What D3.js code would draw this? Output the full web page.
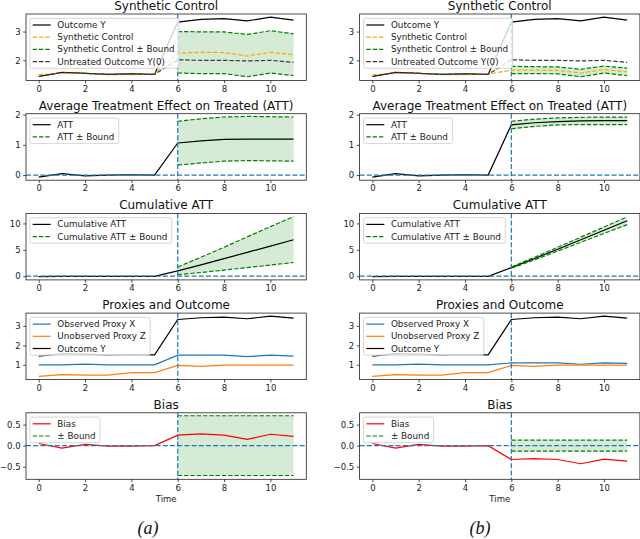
<!DOCTYPE html>
<html>
<head>
<meta charset="utf-8">
<style>
  body { margin:0; background:#fff; }
  svg text { font-family:"DejaVu Sans", sans-serif; }
</style>
<script src="https://d3js.org/d3.v7.min.js"></script>
</head>
<body>
<script>
// ---- data ----
var time = [0,1,2,3,4,5,6,7,8,9,10,11];
var postTime = [6,7,8,9,10,11];
var xTicks = [0,2,4,6,8,10];

var outcomeY   = [1.44,1.58,1.55,1.51,1.53,1.51,3.33,3.42,3.45,3.37,3.50,3.40];
var untreatedY0= [1.44,1.58,1.55,1.51,1.53,1.51,2.02,2.00,2.00,1.98,2.00,1.93];

var synthA     = [1.50,1.55,1.55,1.50,1.50,1.52,2.25,2.28,2.27,2.15,2.28,2.20];
var synthUpA   = [3.00,2.99,2.99,2.90,3.03,2.92];
var synthLoA   = [1.56,1.54,1.54,1.43,1.56,1.47];
var synthB     = [1.50,1.55,1.55,1.50,1.50,1.52,1.66,1.66,1.65,1.56,1.68,1.60];
var synthUpB   = [1.79,1.78,1.77,1.69,1.80,1.73];
var synthLoB   = [1.54,1.54,1.53,1.43,1.56,1.47];

var attA       = [-0.07,0.05,-0.03,0.00,0.01,0.00,1.06,1.13,1.18,1.19,1.19,1.19];
var attUpA     = [1.78,1.86,1.92,1.94,1.93,1.92];
var attLoA     = [0.33,0.40,0.46,0.48,0.47,0.46];
var attB       = [-0.07,0.05,-0.03,0.00,0.01,0.00,1.66,1.73,1.77,1.79,1.80,1.80];
var attUpB     = [1.78,1.85,1.89,1.91,1.92,1.92];
var attLoB     = [1.53,1.61,1.66,1.67,1.67,1.67];

var cumA       = [-0.07,-0.02,-0.05,-0.05,-0.04,-0.04,1.02,2.15,3.33,4.52,5.71,6.90];
var cumUpA     = [1.74,3.60,5.50,7.45,9.40,11.30];
var cumLoA     = [0.30,0.70,1.16,1.64,2.11,2.60];
var cumB       = [-0.07,-0.02,-0.05,-0.05,-0.04,-0.04,1.62,3.35,5.12,6.91,8.71,10.50];
var cumUpB     = [1.74,3.60,5.49,7.40,9.32,11.24];
var cumLoB     = [1.50,3.10,4.76,6.43,8.10,9.77];

var proxyXA    = [1.00,1.00,1.04,1.00,1.00,1.00,1.50,1.50,1.50,1.42,1.50,1.45];
var proxyXB    = [1.00,1.00,1.04,1.00,1.00,1.00,1.10,1.10,1.10,1.03,1.10,1.07];
var proxyZ     = [0.41,0.50,0.47,0.47,0.60,0.60,0.97,0.92,0.98,0.98,0.98,0.98];

var biasA      = [0.05,-0.06,0.03,-0.01,-0.01,0.00,0.25,0.28,0.25,0.15,0.27,0.22];
var biasUpA    = [0.71,0.71,0.71,0.71,0.71,0.71];
var biasLoA    = [-0.71,-0.71,-0.71,-0.71,-0.71,-0.71];
var biasB      = [0.05,-0.06,0.03,-0.01,-0.01,0.00,-0.33,-0.31,-0.33,-0.43,-0.32,-0.37];
var biasUpB    = [0.13,0.13,0.13,0.13,0.13,0.13];
var biasLoB    = [-0.13,-0.13,-0.13,-0.13,-0.13,-0.13];

var rowTitles = ["Synthetic Control","Average Treatment Effect on Treated (ATT)","Cumulative ATT","Proxies and Outcome","Bias"];
var rowTicks  = [[2,3],[0,1,2],[0,5,10],[1,2,3],[-0.5,0,0.5]];
var captions  = ["(a)","(b)"];

// ---- layout ----
var svg = d3.select("body").append("svg").attr("width",640).attr("height",539);
var colLeft = [26, 359.6], plotW = 280.3;
var rowTop = [14, 113.7, 213.4, 313.1, 412.8], plotH = 66.5;
var yDomains = [[1.30,3.61],[-0.17,2.03],[-0.70,11.90],[0.24,3.66],[-0.80,0.78]];
var fs = 8.8, tfs = 8.5, lw = 1.2, dash = "4.4,1.9";
var BLUE = "#1f77b4", ORANGE = "#ff7f0e", SC = "orange", GREEN = "green", Y0C = "#3a3a3a";

function panel(col, row, lines, band, hline, legend) {
  var x0 = colLeft[col], y0 = rowTop[row];
  var x = d3.scaleLinear().domain([-0.55, 11.55]).range([x0, x0 + plotW]);
  var y = d3.scaleLinear().domain(yDomains[row]).range([y0 + plotH, y0]);
  var g = svg.append("g");

  if (band) {
    g.append("path")
      .datum(postTime.map(function(t,i){ return [t, band[0][i], band[1][i]]; }))
      .attr("d", d3.area().x(function(d){return x(d[0]);}).y0(function(d){return y(d[2]);}).y1(function(d){return y(d[1]);}))
      .attr("fill", GREEN).attr("fill-opacity", 0.16);
  }
  lines.forEach(function(s) {
    var xs = s.x || time;
    g.append("path")
      .datum(xs.map(function(t,i){ return [t, s.y[i]]; }))
      .attr("d", d3.line().x(function(d){return x(d[0]);}).y(function(d){return y(d[1]);}))
      .attr("fill","none").attr("stroke", s.color).attr("stroke-width", lw)
      .attr("stroke-dasharray", s.dash ? dash : null);
  });
  // reference lines
  g.append("line").attr("x1", x(6)).attr("x2", x(6)).attr("y1", y0).attr("y2", y0 + plotH)
    .attr("stroke", BLUE).attr("stroke-width", lw).attr("stroke-dasharray", "5,2.2");
  if (hline) {
    g.append("line").attr("x1", x0).attr("x2", x0 + plotW).attr("y1", y(0)).attr("y2", y(0))
      .attr("stroke", BLUE).attr("stroke-width", lw).attr("stroke-dasharray", "5,2.2");
  }

  // axes
  var fmt = row === 4 ? d3.format(".1f") : d3.format("d");
  var xa = g.append("g").attr("transform","translate(0,"+(y0+plotH)+")")
    .call(d3.axisBottom(x).tickValues(xTicks).tickSize(2.8).tickPadding(2.4));
  var ya = g.append("g").attr("transform","translate("+x0+",0)")
    .call(d3.axisLeft(y).tickValues(rowTicks[row]).tickFormat(fmt).tickSize(2.8).tickPadding(2.6));
  [xa, ya].forEach(function(a){
    a.select(".domain").remove();
    a.selectAll("line").attr("stroke","#222").attr("stroke-width",0.8);
    a.selectAll("text").attr("font-size", tfs).attr("fill","#222").style("font-family","DejaVu Sans");
  });
  g.append("rect").attr("x", x0).attr("y", y0).attr("width", plotW).attr("height", plotH)
    .attr("fill","none").attr("stroke","#222").attr("stroke-width",0.8);

  g.append("text").attr("x", x0 + plotW/2).attr("y", y0 - 4).attr("text-anchor","middle")
    .attr("font-size", 12).attr("fill","#111").text(rowTitles[row]);

  // legend
  var lg = g.append("g");
  var box = lg.append("rect");
  var lx = x0 + 4, ly = y0 + 4.3, edge = 6.7, rh = 12.2, maxW = 0;
  legend.forEach(function(s, i) {
    var cy = ly + edge + i * rh;
    lg.append("line").attr("x1", lx + 2.7).attr("x2", lx + 20.7).attr("y1", cy).attr("y2", cy)
      .attr("stroke", s.color).attr("stroke-width", lw).attr("stroke-dasharray", s.dash ? dash : null);
    var t = lg.append("text").attr("x", lx + 27.3).attr("y", cy).attr("dy","0.35em")
      .attr("font-size", fs).attr("fill","#222").text(s.label);
    maxW = Math.max(maxW, t.node().getComputedTextLength());
  });
  box.attr("x", lx).attr("y", ly).attr("rx", 2).attr("ry", 2)
    .attr("width", 27.3 + maxW + 4.4)
    .attr("height", 2*edge + (legend.length-1)*rh)
    .attr("fill","#fff").attr("fill-opacity",0.8).attr("stroke","#ccc").attr("stroke-width",0.8);
}

var cols = [
  {synth: synthA, sUp: synthUpA, sLo: synthLoA, att: attA, aUp: attUpA, aLo: attLoA,
   cum: cumA, cUp: cumUpA, cLo: cumLoA, px: proxyXA, bias: biasA, bUp: biasUpA, bLo: biasLoA},
  {synth: synthB, sUp: synthUpB, sLo: synthLoB, att: attB, aUp: attUpB, aLo: attLoB,
   cum: cumB, cUp: cumUpB, cLo: cumLoB, px: proxyXB, bias: biasB, bUp: biasUpB, bLo: biasLoB}
];

cols.forEach(function(c, ci) {
  panel(ci, 0, [
      {y: outcomeY, color:"#000"},
      {y: c.synth, color: SC, dash:true},
      {x: postTime, y: c.sUp, color: GREEN, dash:true},
      {x: postTime, y: c.sLo, color: GREEN, dash:true},
      {y: untreatedY0, color: Y0C, dash:true}
    ], [c.sUp, c.sLo], false, [
      {label:"Outcome Y", color:"#000"},
      {label:"Synthetic Control", color: SC, dash:true},
      {label:"Synthetic Control \u00b1 Bound", color: GREEN, dash:true},
      {label:"Untreated Outcome Y(0)", color: Y0C, dash:true}
    ]);
  panel(ci, 1, [
      {y: c.att, color:"#000"},
      {x: postTime, y: c.aUp, color: GREEN, dash:true},
      {x: postTime, y: c.aLo, color: GREEN, dash:true}
    ], [c.aUp, c.aLo], true, [
      {label:"ATT", color:"#000"},
      {label:"ATT \u00b1 Bound", color: GREEN, dash:true}
    ]);
  panel(ci, 2, [
      {y: c.cum, color:"#000"},
      {x: postTime, y: c.cUp, color: GREEN, dash:true},
      {x: postTime, y: c.cLo, color: GREEN, dash:true}
    ], [c.cUp, c.cLo], true, [
      {label:"Cumulative ATT", color:"#000"},
      {label:"Cumulative ATT \u00b1 Bound", color: GREEN, dash:true}
    ]);
  panel(ci, 3, [
      {y: c.px, color: BLUE},
      {y: proxyZ, color: ORANGE},
      {y: outcomeY, color:"#000"}
    ], null, false, [
      {label:"Observed Proxy X", color: BLUE},
      {label:"Unobserved Proxy Z", color: ORANGE},
      {label:"Outcome Y", color:"#000"}
    ]);
  panel(ci, 4, [
      {y: c.bias, color:"red"},
      {x: postTime, y: c.bUp, color: GREEN, dash:true},
      {x: postTime, y: c.bLo, color: GREEN, dash:true}
    ], [c.bUp, c.bLo], true, [
      {label:"Bias", color:"red"},
      {label:"\u00b1 Bound", color: GREEN, dash:true}
    ]);

  svg.append("text").attr("x", colLeft[ci] + plotW/2).attr("y", 502).attr("text-anchor","middle")
    .attr("font-size", tfs).attr("fill","#222").text("Time");
  svg.append("text").attr("x", ci === 0 ? 148 : 480).attr("y", 534).attr("text-anchor","middle")
    .attr("font-size", 18).attr("font-style","italic").style("font-family","'Liberation Serif', serif")
    .attr("fill","#111").text(captions[ci]);
});
</script>
</body>
</html>
